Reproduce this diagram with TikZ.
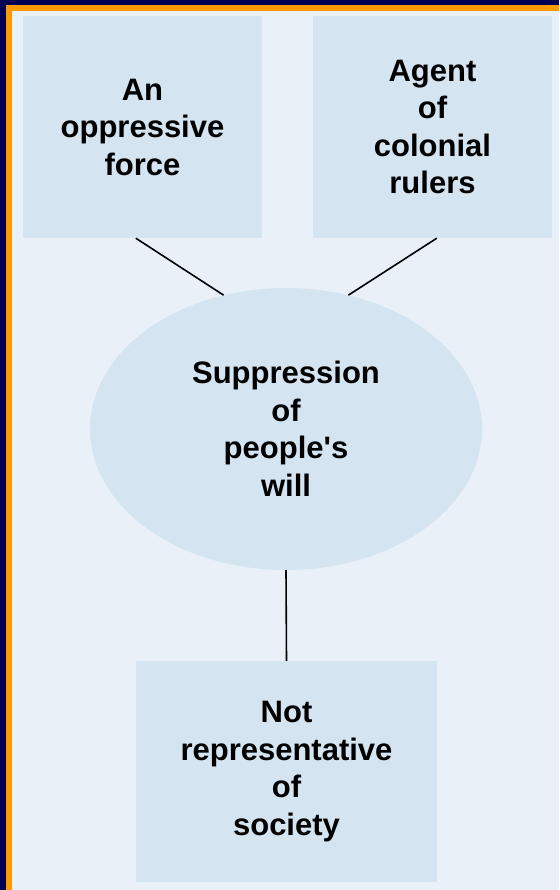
\documentclass[tikz,border=0pt]{standalone}
\usepackage{fontspec}
\setmainfont{Liberation Sans}
\usetikzlibrary{shapes.geometric,calc}
\definecolor{navyband}{RGB}{0,0,80}
\definecolor{orangeband}{RGB}{255,153,0}
\definecolor{bgblue}{RGB}{233,240,248}
\definecolor{boxblue}{RGB}{212,228,240}
\tikzset{
  lbl/.style={font=\fontsize{31}{37.5}\selectfont\bfseries, align=center, text=black, inner sep=0pt},
  rbox/.style={lbl, rectangle, fill=boxblue, draw=none},
  oval/.style={lbl, ellipse, fill=boxblue, draw=none},
  link/.style={draw=black, line width=1.6pt}
}
\begin{document}
\begin{tikzpicture}[x=1pt,y=-1pt]
\useasboundingbox (0,0) rectangle (559,890);
\fill[bgblue] (0,0) rectangle (559,890);
\fill[navyband] (0,0) rectangle (559,5);
\fill[navyband] (0,0) rectangle (6,890);
\fill[orangeband] (6,5) rectangle (559,11);
\fill[orangeband] (6,5) rectangle (12,890);
\node[rbox, minimum width=239pt, minimum height=222pt] (b1) at (142.5,127) {An\\oppressive\\force};
\node[rbox, minimum width=239pt, minimum height=222pt] (b2) at (432.5,127) {Agent\\of\\colonial\\rulers};
\node[oval, minimum width=392pt, minimum height=282pt] (ell) at (286,429) {Suppression\\of\\people\textquotesingle s\\will};
\node[rbox, minimum width=301pt, minimum height=221pt] (b3) at (286.5,771.5) {Not\\representative\\of\\society};
\coordinate (p1) at ($(b1.south west)+(113,0)$);
\coordinate (p2) at ($(b2.south west)+(124,0)$);
\draw[link] (p1) -- (ell.115);
\draw[link] (p2) -- (ell.65);
\draw[link] (ell.south) -- (b3.north);
\end{tikzpicture}
\end{document}
